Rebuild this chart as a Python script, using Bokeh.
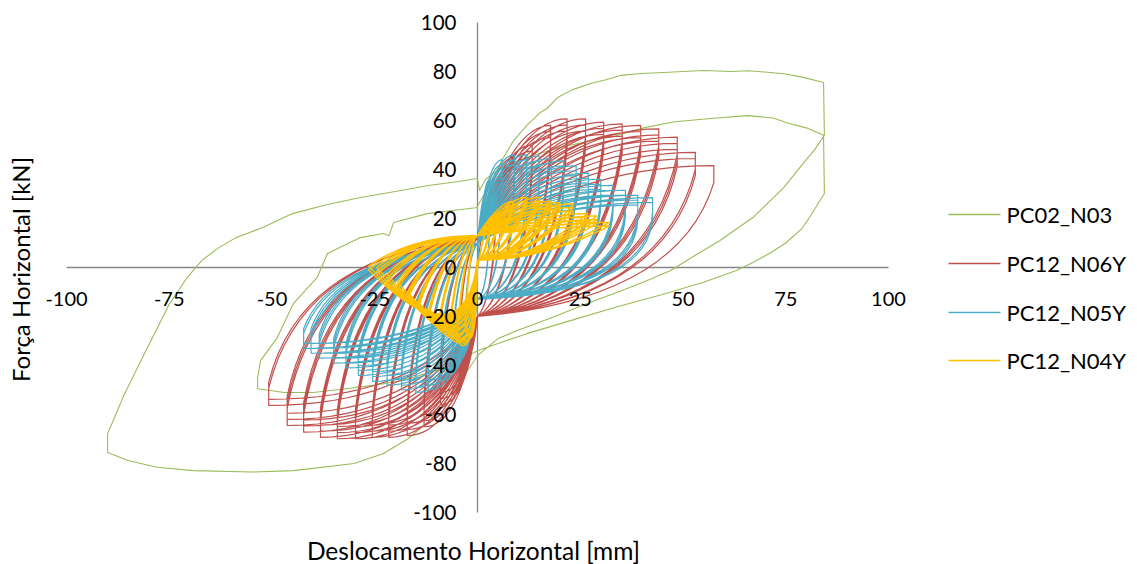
import numpy as np
from bokeh.plotting import figure
from bokeh.models import Range1d
from bokeh.core.properties import value
from bokeh.embed import file_html
from bokeh.resources import INLINE

# ---------------- data ----------------
series_names = ["PC02_N03", "PC12_N06Y", "PC12_N05Y", "PC12_N04Y"]
series_colors = ["#9BBB59", "#C0504D", "#4BACC6", "#FFC000"]

x_ticks = [-100, -75, -50, -25, 0, 25, 50, 75, 100]
x_tick_labels = ["-100", "-75", "-50", "-25", "0", "25", "50", "75", "100"]
y_ticks = [-100, -80, -60, -40, -20, 0, 20, 40, 60, 80, 100]
y_tick_labels = ["-100", "-80", "-60", "-40", "-20", "0", "20", "40", "60", "80", "100"]

# PC02_N03 - traced path (displacement mm, force kN)
n03_x = [0, 1, 0, 0, 3, 6, 8.8, 12, 15.3, 17, 19.5, 23, 27.5, 31, 34.8, 40, 45.3, 50, 55, 61.6, 66, 71.3, 75, 79.3, 84.2,
         84.4, 82, 80, 74.5, 67, 59, 53, 47, 41, 35, 27, 18, 10, 5, 0, -4, -8, -12, -17, -23, -30, -44.8, -55, -69, -78, -85, -90,
         -90, -88, -86, -81, -78, -75, -70.6, -67, -63, -59, -52, -45, -37, -28.5, -20, -12, -5, 0,
         0.5, 2, 6, 12, 20, 27, 33, 40.4, 48, 56.7, 65.7, 72, 75.4, 80, 84.2,
         84.4, 81, 79, 75, 71, 67, 63, 55, 45, 34, 22, 12, 5, 0, -4, -8, -12, -18, -25, -32, -40, -47, -53.5,
         -53.5, -52.8, -48.7, -44.8, -39, -36.5, -28.5, -22.9, -21.5, -20.4, -12.2, -5, 0, 0]
n03_y = [0, 8, 16, 25, 34, 44, 51.8, 58, 63.3, 65, 69.4, 72.5, 75.1, 76.5, 78.4, 79.2, 79.6, 80, 80.4, 80, 80.3, 79.6, 79, 77.6, 75.5,
         54, 48, 44, 32.6, 20.4, 11, 5, -1.2, -5.5, -9.5, -14.5, -20.5, -25.5, -29, -36, -46, -55, -63, -70, -76, -80, -82.9, -83.5, -82.9, -81.5, -78.8, -75.5,
         -67.8, -60, -52, -35, -25, -15, -4, 3, 8, 12, 16.5, 22, 25.5, 28.6, 31, 33.5, 35, 36.3,
         31.5, 36, 41, 45, 49, 51.5, 53.5, 57, 59.5, 60.8, 62, 61, 59, 57, 54,
         30.2, 21, 16, 10, 5.7, 2, -1.2, -6, -11, -16, -22, -27, -31, -34, -37.5, -41, -43, -46, -48, -49.5, -51, -51, -49.5,
         -45, -38, -28.6, -14.7, -4, 5.7, 12.2, 13.9, 13, 18.4, 22, 23.5, 24.5, 16]

# PC12_N06Y - cycle peaks
n06_pos_d = [4.5, 9, 13.3, 17.8, 21.8, 26.3, 30.7, 35.2, 39.7, 44.1, 48.6, 53, 57.5]
n06_pos_f = [32, 45, 50, 58, 60.7, 60.7, 59.3, 58.6, 58, 56.6, 53.2, 47, 41.6]
n06_neg_d = [-4.5, -9, -13, -17.1, -21.6, -25.6, -29.7, -34.1, -38.2, -42.3, -46.3, -50.8]
n06_neg_f = [-42, -56, -65, -68.6, -69.3, -69.3, -69.9, -69.9, -69.3, -67.2, -64.5, -56.3]
n06_reps = [3, 3, 3, 3, 3, 3, 3, 3, 3, 3, 3, 2, 1]

# PC12_N05Y - cycle peaks
n05_pos_d = [3, 6, 9, 12, 15, 18, 21, 24, 27, 30, 33, 36, 39, 42.6]
n05_pos_f = [36, 44, 46, 46, 45.5, 44.5, 43.5, 41.5, 38.5, 36, 33.5, 31.5, 29.5, 28.5]
n05_neg_d = [-3, -6, -9, -12, -15, -18.5, -22, -25.5, -29, -32, -35, -38.5, -40.5, -42.3]
n05_neg_f = [-30, -40, -46, -50, -51, -50, -48, -46.5, -44, -41, -39, -37, -35, -33]
n05_reps = [3, 3, 3, 3, 3, 3, 3, 3, 3, 3, 3, 3, 3, 2]

# PC12_N04Y - cycle peaks
n04_pos_d = [3, 5.5, 8.8, 12, 15.3, 17.8, 20, 23.4, 26.8, 29, 32]
n04_pos_f = [17, 22, 27, 28.6, 28.6, 27, 26.5, 26, 22, 21, 18.4]
n04_neg_d = [-3, -5, -7, -9.5, -12, -14.5, -17, -19.5, -22, -24.5, -26.5]
n04_neg_f = [-25, -30, -28, -25, -21, -17, -13, -9, -6, -3, -1]
n04_reps = [3, 3, 3, 3, 3, 3, 3, 3, 3, 3, 2]

# loop shape descriptors per series (forces at zero displacement etc.)
shape_n06 = dict(a=12, b=-20, kp=0.45, kn=0.3, ku=0.85, ub=-13, ua=5, drop=7, dec=2.5)
shape_n05 = dict(a=10, b=-13, kp=0.4, kn=0.35, ku=0.98, ub=-10, ua=4, drop=6, dec=2.0, knr=0.85)
shape_n04 = dict(a=13, b=3, kp=0.6, kn=0.12, ku=0.5, ub=3, ua=13, drop=0, dec=1.5, knr=0.6, cny=-40)


# ---------------- path construction ----------------
def quad(X, Y, c, p1, n=18):
    x0, y0 = X[-1], Y[-1]
    t = np.linspace(0, 1, n)[1:]
    X.extend(((1 - t) ** 2 * x0 + 2 * (1 - t) * t * c[0] + t ** 2 * p1[0]).tolist())
    Y.extend(((1 - t) ** 2 * y0 + 2 * (1 - t) * t * c[1] + t ** 2 * p1[1]).tolist())


def build(pd, pf, nd, nf, reps, s):
    X, Y = [0.0], [0.0]
    knr = s.get("knr", s["ku"])
    for i in range(len(pd)):
        for r in range(reps[i]):
            fp = pf[i] - r * s["dec"]
            quad(X, Y, (s["kp"] * pd[i], fp), (pd[i], fp))
            if s["drop"]:
                X.append(pd[i]); Y.append(fp - s["drop"])
            quad(X, Y, (s["ku"] * pd[i], s["ub"]), (0.0, s["b"]))
            if i < len(nd):
                fn = nf[i] + r * s["dec"]
                cy = min(s["cny"], fn) if "cny" in s else fn
                quad(X, Y, (s["kn"] * nd[i], cy), (nd[i], fn))
                if s["drop"]:
                    X.append(nd[i]); Y.append(fn + s["drop"])
                quad(X, Y, (knr * nd[i], s["ua"]), (0.0, s["a"]))
    return X, Y


n06_x, n06_y = build(n06_pos_d, n06_pos_f, n06_neg_d, n06_neg_f, n06_reps, shape_n06)
n05_x, n05_y = build(n05_pos_d, n05_pos_f, n05_neg_d, n05_neg_f, n05_reps, shape_n05)
n04_x, n04_y = build(n04_pos_d, n04_pos_f, n04_neg_d, n04_neg_f, n04_reps, shape_n04)

# ---------------- figure geometry ----------------
W, H = 1137, 564
OFF = 0                       # canvas origin on the page
PX, PY = 4.11, 2.45           # pixels per data unit
x_start = -100 - (66 - OFF) / PX
y_end = 100 + (22 - OFF) / PY


def dxp(px):
    return x_start + (px - OFF) / PX


def dyp(py):
    return y_end - (py - OFF) / PY


p = figure(width=W, height=H, x_range=Range1d(x_start, x_start + W / PX),
           y_range=Range1d(y_end - H / PY, y_end), x_axis_type=None, y_axis_type=None,
           toolbar_location=None, output_backend="svg", min_border=0)
p.outline_line_color = None
p.grid.visible = False
p.background_fill_color = "white"

FONT = value("Lato")

# axes crossing at origin
p.segment(x0=[-100, 0], y0=[0, -100], x1=[100, 0], y1=[0, 100], line_color="#868686", line_width=1.3)

# series
widths = [1.1, 1.2, 1.2, 1.5]
for (xx, yy), col, lw in zip([(n03_x, n03_y), (n06_x, n06_y), (n05_x, n05_y), (n04_x, n04_y)], series_colors, widths):
    p.line(xx, yy, line_color=col, line_width=lw, line_join="round")

# tick labels
p.text(x=x_ticks, y=[0] * len(x_ticks), text=x_tick_labels, y_offset=31, text_align="center",
       text_baseline="middle", text_font=FONT, text_font_size="20px", text_color="#000000")
p.text(x=[0] * len(y_ticks), y=y_ticks, text=y_tick_labels, x_offset=-21, text_align="right",
       text_baseline="middle", text_font=FONT, text_font_size="20.5px", text_color="#000000")

# axis titles
p.text(x=[dxp(473)], y=[dyp(550)], text=["Deslocamento Horizontal [mm]"], text_align="center",
       text_baseline="middle", text_font=FONT, text_font_size="24.5px", text_color="#000000")
p.text(x=[dxp(20)], y=[dyp(269)], text=["Força Horizontal [kN]"], angle=np.pi / 2, text_align="center",
       text_baseline="middle", text_font=FONT, text_font_size="24px", text_color="#000000")

# legend
leg_y = [dyp(v) for v in (214, 263, 312, 360)]
p.segment(x0=[dxp(948)] * 4, x1=[dxp(1000)] * 4, y0=leg_y, y1=leg_y, line_color=series_colors, line_width=1.5)
p.text(x=[dxp(1006)] * 4, y=leg_y, text=series_names, text_align="left", text_baseline="middle",
       text_font=FONT, text_font_size="22px", text_color="#000000")

open("out.html", "w").write(file_html(p, INLINE))
